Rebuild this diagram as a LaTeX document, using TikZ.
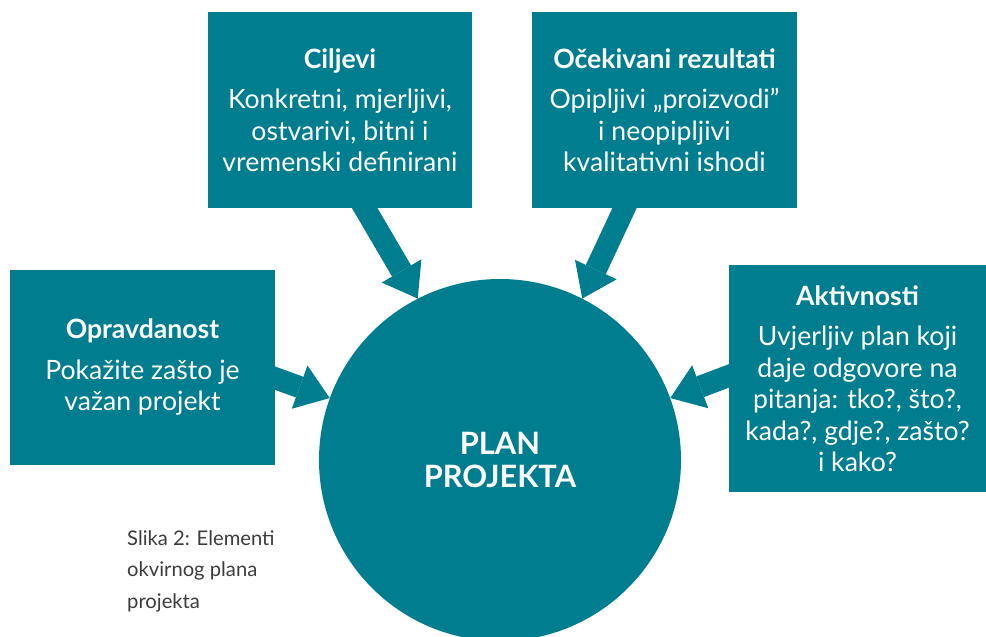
\documentclass[tikz,border=0pt]{standalone}
\usepackage{fontspec}
\setmainfont{Lato}
\usetikzlibrary{arrows.meta}
\definecolor{planteal}{RGB}{0,125,143}
\definecolor{captiongray}{RGB}{60,60,60}

\begin{document}
\begin{tikzpicture}[x=1pt,y=-1pt,
    box/.style={fill=planteal,text=white,align=center,inner sep=0pt,
        font={\fontsize{26.6}{31.5}\selectfont}},
    bigarrow/.style={planteal,line width=22pt,
        -{Triangle[length=32pt,width=46pt,line width=0pt]}},
    ]
    \useasboundingbox (0,0) rectangle (986,637);

    % Boxes
    \node[box,minimum width=264pt,minimum height=196pt] (ciljevi) at (340,110)
        {{\bfseries Ciljevi}\\[9pt]Konkretni, mjerljivi,\\ostvarivi, bitni i\\vremenski definirani};
    \node[box,minimum width=265pt,minimum height=196pt] (rezultati) at (664.5,110)
        {{\bfseries Očekivani rezultati}\\[9pt]Opipljivi „proizvodi”\\i neopipljivi\\kvalitativni ishodi};
    \node[box,minimum width=265pt,minimum height=195pt] (opravdanost) at (142.5,367.5)
        {{\bfseries Opravdanost}\\[9pt]Pokažite zašto je\\važan projekt};
    \node[box,minimum width=257pt,minimum height=227pt] (aktivnosti) at (857.5,378.5)
        {{\bfseries Aktivnosti}\\[9pt]Uvjerljiv plan koji\\daje odgovore na\\pitanja: tko?, što?,\\kada?, gdje?, zašto?\\i kako?};

    % Circle
    \node[circle,fill=planteal,minimum size=362pt,inner sep=0pt,text=white,align=center,
        font={\bfseries\fontsize{30.8}{33}\selectfont}] (plan) at (500,460) {PLAN\\PROJEKTA};

    % Arrows
    \draw[bigarrow] ([xshift=16pt,yshift=15pt]ciljevi.south) -- (plan.117);
    \draw[bigarrow] ([xshift=-33pt,yshift=15pt]rezultati.south) -- (plan.63);
    \draw[bigarrow] ([xshift=-15pt,yshift=-5.3pt]opravdanost.east) -- (plan.160);
    \draw[bigarrow] ([xshift=15pt,yshift=8.2pt]aktivnosti.west) -- (plan.20);

    % Caption
    \node[anchor=north west,align=left,inner sep=0pt,text=captiongray,
        font={\fontsize{20.2}{31.5}\selectfont}] (slika) at (127,530)
        {Slika 2: Elementi\\okvirnog plana\\projekta};
\end{tikzpicture}
\end{document}
